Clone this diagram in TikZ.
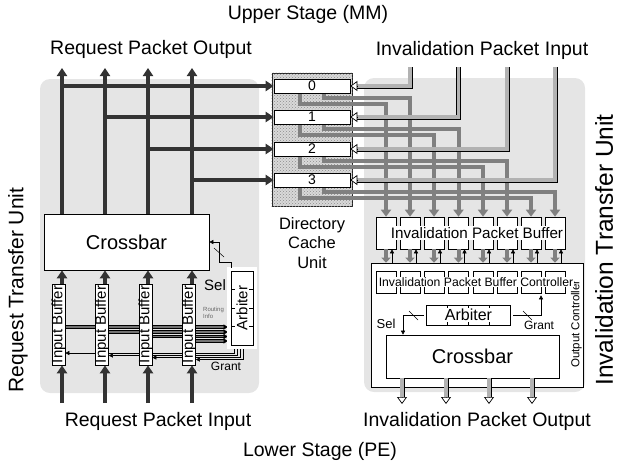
\documentclass[tikz,border=0pt]{standalone}
\usepackage{fontspec}
\setmainfont{Liberation Sans}
\usetikzlibrary{arrows.meta,calc,patterns}
\pgfdeclarelayer{panel}
\pgfdeclarelayer{bg}
\pgfsetlayers{panel,bg,main}
\newcommand{\myfs}[1]{\fontsize{#1pt}{#1pt}\selectfont}
\begin{document}
\begin{tikzpicture}[x=1pt,y=-1pt,
  panel/.style={fill=black!10,rounded corners=10pt},
  req/.style={draw=black!80,line width=4pt,-{Triangle[length=8pt,width=10pt]}},
  gry/.style={draw=black!50,line width=4pt,-{Triangle[length=7pt,width=10pt]}},
  gshort/.style={draw=black!50,line width=4pt,-{Triangle[length=5pt,width=9pt]}},
  hat/.style={draw=black,line width=0.8pt,double=black!30,double distance=3.4pt},
  oarr/.style={draw=black,line width=0.7pt,-{Triangle[length=7pt,width=10pt,fill=white]}},
  rout/.style={draw=black,line width=0.9pt,double=black!55,double distance=1.4pt},
  rarr/.style={draw=black,line width=0.4pt,-{Triangle[length=4pt,width=5pt]}},
  box/.style={draw=black,fill=white,line width=0.6pt,inner sep=0pt},
  dbox/.style={draw=black,fill=white,line width=0.6pt,double,double distance=1.6pt,inner sep=0pt},
  tarr/.style={draw=black,line width=0.5pt,-{Triangle[length=4pt,width=4pt]}},
  lbl/.style={inner sep=0pt,font=\myfs{19.5}},
  tick/.style={draw=black,line width=0.5pt}
]
\useasboundingbox (0,0) rectangle (617,466);

% ---------- panels and directory cache
\begin{pgfonlayer}{panel}
\fill[panel] (40,79) rectangle (259,393);
\fill[panel] (364,78) rectangle (585,392);
\node[draw=black!85,line width=0.6pt,fill=black!15,minimum width=80pt,minimum height=133pt,inner sep=0pt] (dcu) at (312,139.5) {};
\fill[pattern=crosshatch dots,pattern color=black!45] (dcu.north west) rectangle (dcu.south east);
\end{pgfonlayer}

% ---------- labels
\node[lbl] (ust) at (308,14) {Upper Stage (MM)};
\node[lbl] (rpo) at (151,49) {Request Packet Output};
\node[lbl] (ipi) at (482,50) {Invalidation Packet Input};
\node[lbl] (rpi) at (158,421) {Request Packet Input};
\node[lbl] (ipo) at (477,421) {Invalidation Packet Output};
\node[lbl] (lst) at (320,451) {Lower Stage (PE)};
\node[rotate=90,inner sep=0pt,font=\myfs{21}] (rtu) at (18,290) {Request Transfer Unit};
\node[rotate=90,inner sep=0pt,font=\myfs{24.5}] (itu) at (604,250) {Invalidation Transfer Unit};
\node[align=center,inner sep=0pt,font=\fontsize{16.5pt}{19.5pt}\selectfont] (dcut) at (312,243) {Directory\\Cache\\Unit};

% ---------- directory cache entries
\foreach \i/\y in {0/86,1/117,2/149,3/180}
  \node[box,minimum width=76pt,minimum height=14pt,font=\myfs{14}] (e\i) at (312,\y) {\i};

% ---------- left: request transfer unit
\node[box,minimum width=165pt,minimum height=56pt,font=\myfs{20}] (lx) at (126.5,242) {Crossbar};
\foreach \i/\x in {1/58.5,2/102,3/145.5,4/189}{
  \node[box,minimum width=13pt,minimum height=81pt] (ib\i) at (\x,324.5) {};
  \node[rotate=90,inner sep=0pt,font=\myfs{15}] (ibt\i) at (ib\i) {Input Buffer};
}
\node[dbox,minimum width=28pt,minimum height=80pt] (la) at (242,308) {};
\foreach \k/\y in {0/280.25,1/298.75,2/317.25,3/335.75}
  \node[box,minimum width=22pt,minimum height=18.5pt] (lac\k) at (242,\y) {};
\node[rotate=90,fill=white,inner sep=1pt,font=\myfs{15}] (lat) at (la) {Arbiter};
\node[inner sep=0pt,font=\myfs{15}] (lsel) at (215,285) {Sel};
\node[inner sep=0pt,font=\myfs{12}] (lgr) at (226,366) {Grant};
\node[anchor=west,align=left,inner sep=0pt,text=black!60,font=\fontsize{6pt}{7.5pt}\selectfont] (rinfo) at (203,313) {Routing\\Info};

% ---------- right: invalidation transfer unit
\foreach \i/\x in {1/386,2/410,3/434,4/458.5,5/483,6/507,7/531,8/555}
  \node[box,minimum width=20pt,minimum height=32pt] (b\i) at (\x,233) {};
\node[fill=white,inner sep=1pt,font=\myfs{15.2}] (ipbt) at (477,233) {Invalidation Packet Buffer};

\node[box,minimum width=212pt,minimum height=124pt] (oc) at (477,325) {};
\node[rotate=90,inner sep=0pt,font=\myfs{11.5}] (oct) at (576.5,324) {Output Controller};
\node[dbox,minimum width=192pt,minimum height=27pt] (ipbc) at (471,281.5) {};
\foreach \i/\x in {1/386,2/410,3/434,4/458.5,5/483,6/507,7/531,8/555}
  \node[box,minimum width=20pt,minimum height=22pt] (cc\i) at (\x,282) {};
\node[fill=white,inner sep=1pt,font=\myfs{12.2}] (ipbct) at (476,282) {Invalidation Packet Buffer Controller};

\node[dbox,minimum width=89pt,minimum height=26pt] (ra) at (468.5,315) {};
\foreach \k/\x in {0/437,1/458,2/479,3/500}
  \node[box,minimum width=21pt,minimum height=20pt] (rac\k) at (\x,315) {};
\node[fill=white,inner sep=1pt,font=\myfs{16}] (rat) at (ra) {Arbiter};
\node[box,minimum width=173pt,minimum height=43pt,font=\myfs{20}] (rx) at (472.5,356.5) {Crossbar};
\node[inner sep=0pt,font=\myfs{13}] (rsel) at (386,324) {Sel};
\node[inner sep=0pt,font=\myfs{12}] (rgr) at (539,325) {Grant};

% ---------- connectors under the boxes
\begin{pgfonlayer}{bg}
% request outputs
\foreach \i/\x in {1/62,2/105,3/148,4/192}
  \coordinate (ro\i) at (\x,68);
\foreach \i in {1,...,4}
  \draw[req] (ro\i |- lx.north) -- (ro\i);
\foreach \i/\e in {1/0,2/1,3/2,4/3}
  \draw[req] (ro\i |- e\e.west) -- (e\e.west);
% directory cache -> invalidation packet buffers
\draw[gry] ($(e0.south)+(-12,0)$) -- ++(0,11) -| (b1.north);
\draw[gry] ($(e0.south)+(12,0)$) -- ++(0,5) -| (b2.north);
\draw[gry] ($(e1.south)+(-12,0)$) -- ++(0,11) -| (b3.north);
\draw[gry] ($(e1.south)+(12,0)$) -- ++(0,5) -| (b4.north);
\draw[gry] ($(e2.south)+(-12,0)$) -- ++(0,11) -| (b5.north);
\draw[gry] ($(e2.south)+(12,0)$) -- ++(0,5) -| (b6.north);
\draw[gry] ($(e3.south)+(-12,0)$) -- ++(0,11) -| (b7.north);
\draw[gry] ($(e3.south)+(12,0)$) -- ++(0,5) -| (b8.north);
% invalidation packet input
\foreach \i/\x/\e in {1/410/0,2/458.5/1,3/507/2,4/555/3}{
  \coordinate (ii\i) at (\x,67);
  \draw[hat,shorten >=7pt] (ii\i) |- (e\e.east);
  \draw[oarr] ($(e\e.east)+(7,0)$) -- (e\e.east);
}
% routing info
\foreach \i/\dy in {1/2.5,2/7.5,3/12,4/16.5}{
  \coordinate (rt\i) at ($(ib\i.east)+(0,\dy)$);
  \draw[rout,shorten >=4pt] (rt\i) -- (rt\i -| la.west);
  \draw[rarr] ($(rt\i -| la.west)+(-4,0)$) -- (rt\i -| la.west);
}
% grant (left)
\foreach \i/\gx/\gy in {1/234/353,2/237/355.5,3/240/357.5,4/243/359.5}{
  \coordinate (g\i) at (\gx,\gy);
  \draw[tarr] (g\i |- la.south) |- (g\i -| ib\i.east);
}
\end{pgfonlayer}

% request inputs
\foreach \i/\x in {1/62,2/105,3/148,4/192}{
  \coordinate (ri\i) at (\x,403);
  \draw[req] (ri\i) -- (ri\i |- ib\i.south);
  \draw[req] (ri\i |- ib\i.north) -- (ri\i |- lx.south);
}
% sel (left)
\coordinate (ls) at (219,262);
\draw[tarr] ($(la.north west)+(4,0)$) |- (ls) |- (lx.east);
\draw[tick] (214,248) -- (224,257);

% buffers -> controller
\foreach \i in {1,...,8}{
  \draw[gshort] (b\i.south) -- (b\i.south |- oc.north);
  \draw[tarr] ($(b\i.south |- oc.north)+(6,0)$) -- ($(b\i.south)+(6,0)$);
}
% sel / grant (right)
\coordinate (rs) at (403,0);
\draw[tarr] (ra.west) -| (rs |- rx.north);
\draw[tick] (409,311) -- (418,320);
\coordinate (rg) at (541,0);
\draw[tarr] (ra.east) -| (rg |- ipbc.south);
\draw[tick] (523,311) -- (532,320);
% invalidation packet output
\foreach \i/\x in {1/402,2/446,3/489,4/532}{
  \coordinate (io\i) at (\x,404);
  \draw[hat,shorten >=7pt] (io\i |- rx.south) -- (io\i);
  \draw[oarr] ($(io\i)+(0,-7)$) -- (io\i);
}
\end{tikzpicture}
\end{document}
